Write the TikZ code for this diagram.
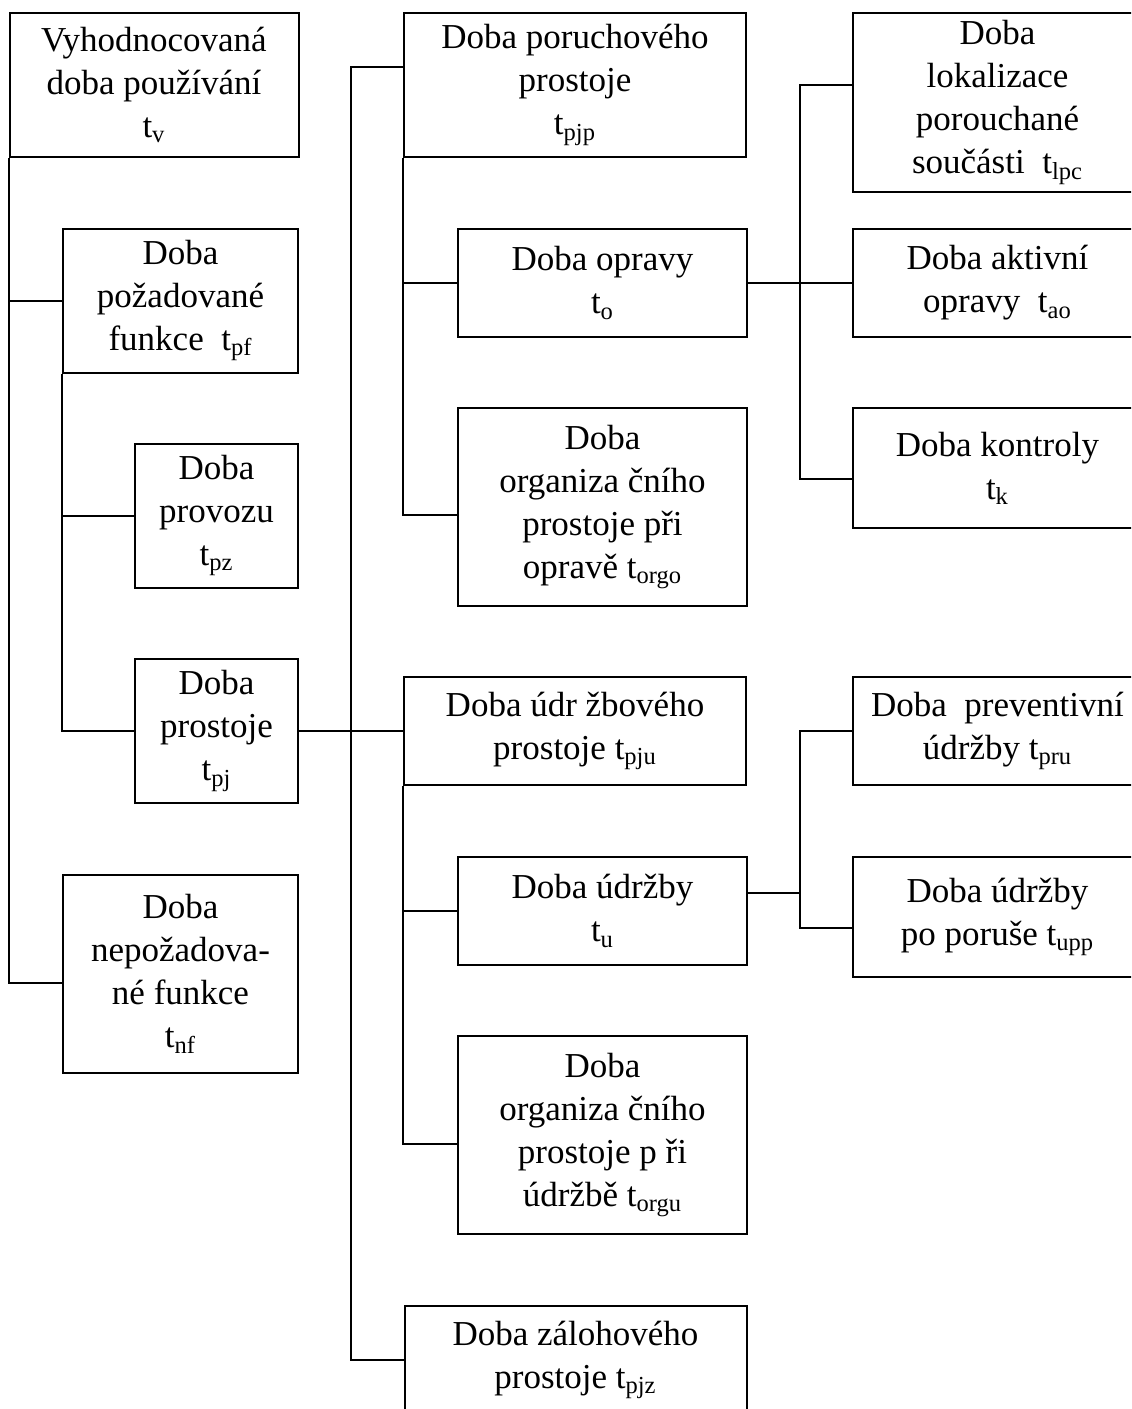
\documentclass[tikz,border=0pt]{standalone}
\usepackage{fontspec}
\setmainfont{Liberation Serif}
\usepackage{tikz}
\usetikzlibrary{positioning}
\tikzset{every picture/.style={line width=1pt},box/.style={draw,align=center,inner sep=0pt,font=\fontsize{17.5}{21.5}\selectfont}}
\tikzset{wbig/.style={minimum width=171pt},wmid/.style={minimum width=144.5pt},wsmall/.style={minimum width=117.5pt},wtiny/.style={minimum width=81.5pt}}
\tikzset{hstd/.style={minimum height=72pt},hlow/.style={minimum height=54pt},htall/.style={minimum height=99pt}}
\begin{document}
\begin{tikzpicture}[x=0.5pt,y=-0.5pt]
\useasboundingbox (0,0) rectangle (1131,1409);
\clip (0,0) rectangle (1131,1409);
% left column
\node[box,wmid,hstd] (tv) at (154,85) {Vyhodnocovaná\\doba používání\\t\textsubscript{v}};
\node[box,wsmall,hstd] (pf) at (180.5,300.5) {Doba\\požadované\\funkce~~t\textsubscript{pf}};
\node[box,wtiny,hstd] (pz) at (216.5,515.5) {Doba\\provozu\\t\textsubscript{pz}};
\node[box,wtiny,hstd] (pj) at (216.5,731) {Doba\\prostoje\\t\textsubscript{pj}};
\node[box,wsmall,htall] (nf) at (180.5,974) {Doba\\nepožadova-\\né funkce\\t\textsubscript{nf}};
% middle column
\node[box,wbig,hstd] (pjp) at (575,85) {Doba poruchového\\prostoje\\t\textsubscript{pjp}};
\node[box,wmid,hlow] (o) at (602.5,283) {Doba opravy\\t\textsubscript{o}};
\node[box,wmid,htall] (orgo) at (602.5,507) {Doba\\organiza čního\\prostoje při\\opravě t\textsubscript{orgo}};
\node[box,wbig,hlow] (pju) at (575,731) {Doba údr žbového\\prostoje t\textsubscript{pju}};
\node[box,wmid,hlow] (u) at (602.5,911) {Doba údržby\\t\textsubscript{u}};
\node[box,wmid,htall] (orgu) at (602.5,1135) {Doba\\organiza čního\\prostoje p ři\\údržbě t\textsubscript{orgu}};
\node[box,wbig,hlow] (pjz) at (575.5,1360) {Doba zálohového\\prostoje t\textsubscript{pjz}};
% right column
\node[box,wmid,minimum height=89.5pt] (lpc) at (997.5,102.5) {Doba\\lokalizace\\porouchané\\součásti~~t\textsubscript{lpc}};
\node[box,wmid,hlow] (ao) at (997.5,283) {Doba aktivní\\opravy~~t\textsubscript{ao}};
\node[box,wmid,minimum height=60pt] (k) at (997.5,468) {Doba kontroly\\t\textsubscript{k}};
\node[box,wmid,hlow] (pru) at (997.5,731) {Doba~~preventivní\\údržby t\textsubscript{pru}};
\node[box,wmid,minimum height=60pt] (upp) at (997.5,917) {Doba údržby\\po poruše t\textsubscript{upp}};
\coordinate (spine) at (351,731);
\coordinate (rjoin) at (800,283);
\coordinate (ujoin) at (800,893);
\draw (tv.south west) |- (pf.west);
\draw (tv.south west) |- ([yshift=-4.5pt]nf.west);
\draw (pf.south west) |- (pz.west);
\draw (pf.south west) |- (pj.west);
\draw (pj.east) -- (pju.west);
\draw ([yshift=9pt]pjp.west) -| (spine) |- (pjz.west);
\draw (pjp.south west) |- (o.west);
\draw (pjp.south west) |- ([yshift=-4pt]orgo.west);
\draw (o.east) -- (ao.west);
\draw ([yshift=8.75pt]lpc.west) -| (rjoin) |- ([yshift=-5.5pt]k.west);
\draw (pju.south west) |- (u.west);
\draw (pju.south west) |- ([yshift=-4.5pt]orgu.west);
\draw ([yshift=9pt]u.east) -- (ujoin);
\draw (pru.west) -| (ujoin) |- ([yshift=-5.5pt]upp.west);
\end{tikzpicture}
\end{document}
